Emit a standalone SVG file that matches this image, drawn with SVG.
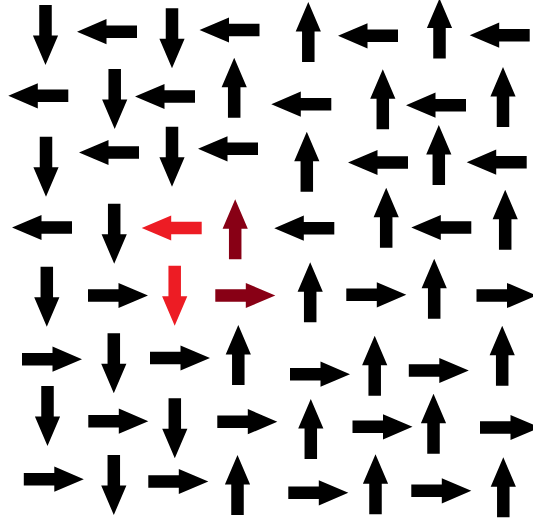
<svg xmlns="http://www.w3.org/2000/svg" xmlns:xlink="http://www.w3.org/1999/xlink" width="533" height="522" viewBox="0 0 533 522">
<style>
.k{fill:#000}
.r{fill:#ed1c24}
.d{fill:#880015}
</style>
<defs>
<path id="a" d="M-30,-6.25 H0.5 V-12.6 L30,0 L0.5,12.6 V6.25 H-30 Z"/>
</defs>
<rect width="533" height="522" fill="#fff"/>
<g id="row1" class="k">
<g id="n1"><use href="#a" transform="translate(45.5,35) rotate(90)"/></g>
<g id="n2"><use href="#a" transform="translate(107,31.7) rotate(180)"/></g>
<g id="n3"><use href="#a" transform="translate(172,38.3) rotate(90)"/></g>
<g id="n4"><use href="#a" transform="translate(229.5,30) rotate(180)"/></g>
<g id="n5"><use href="#a" transform="translate(308.3,32) rotate(-90)"/></g>
<g id="n6"><use href="#a" transform="translate(368,35.8) rotate(180)"/></g>
<g id="n7"><use href="#a" transform="translate(439.5,28.5) rotate(-90)"/></g>
<g id="n8"><use href="#a" transform="translate(499.7,35.2) rotate(180)"/></g>
</g>
<g id="row2" class="k">
<g id="n9"><use href="#a" transform="translate(38.3,95.8) rotate(180)"/></g>
<g id="n10"><use href="#a" transform="translate(114.7,99) rotate(90)"/></g>
<g id="n11"><use href="#a" transform="translate(165,96.5) rotate(180)"/></g>
<g id="n12"><use href="#a" transform="translate(234.2,87.8) rotate(-90)"/></g>
<g id="n13"><use href="#a" transform="translate(301.3,104.2) rotate(180)"/></g>
<g id="n14"><use href="#a" transform="translate(382.8,99.2) rotate(-90)"/></g>
<g id="n15"><use href="#a" transform="translate(436,105.2) rotate(180)"/></g>
<g id="n16"><use href="#a" transform="translate(503,97) rotate(-90)"/></g>
</g>
<g id="row3" class="k">
<g id="n17"><use href="#a" transform="translate(46,166.7) rotate(90)"/></g>
<g id="n18"><use href="#a" transform="translate(109,152.5) rotate(180)"/></g>
<g id="n19"><use href="#a" transform="translate(172,156.7) rotate(90)"/></g>
<g id="n20"><use href="#a" transform="translate(228,148.8) rotate(180)"/></g>
<g id="n21"><use href="#a" transform="translate(306.8,161.7) rotate(-90)"/></g>
<g id="n22"><use href="#a" transform="translate(378,162.5) rotate(180)"/></g>
<g id="n23"><use href="#a" transform="translate(438.8,155) rotate(-90)"/></g>
<g id="n24"><use href="#a" transform="translate(496.7,162.2) rotate(180)"/></g>
</g>
<g id="row4" class="k">
<g id="n25"><use href="#a" transform="translate(42,227.5) rotate(180)"/></g>
<g id="n26"><use href="#a" transform="translate(114.2,233.8) rotate(90)"/></g>
<g id="n27" class="r"><use href="#a" transform="translate(171.7,228) rotate(180)"/></g>
<g id="n28" class="d"><use href="#a" transform="translate(235.2,229.3) rotate(-90)"/></g>
<g id="n29"><use href="#a" transform="translate(304.3,228.2) rotate(180)"/></g>
<g id="n30"><use href="#a" transform="translate(386.2,217.8) rotate(-90)"/></g>
<g id="n31"><use href="#a" transform="translate(441.3,227.5) rotate(180)"/></g>
<g id="n32"><use href="#a" transform="translate(505.2,219.7) rotate(-90)"/></g>
</g>
<g id="row5" class="k">
<g id="n33"><use href="#a" transform="translate(46.8,296.7) rotate(90)"/></g>
<g id="n34"><use href="#a" transform="translate(118,295.5)"/></g>
<g id="n35" class="r"><use href="#a" transform="translate(174.7,295.8) rotate(90)"/></g>
<g id="n36" class="d"><use href="#a" transform="translate(245.3,295.5)"/></g>
<g id="n37"><use href="#a" transform="translate(310.2,292.3) rotate(-90)"/></g>
<g id="n38"><use href="#a" transform="translate(376.3,294.8)"/></g>
<g id="n39"><use href="#a" transform="translate(434.2,288.8) rotate(-90)"/></g>
<g id="n40"><use href="#a" transform="translate(506.5,295.5)"/></g>
</g>
<g id="row6" class="k">
<g id="n41"><use href="#a" transform="translate(52,359.2)"/></g>
<g id="n42"><use href="#a" transform="translate(113.8,363.3) rotate(90)"/></g>
<g id="n43"><use href="#a" transform="translate(180,358)"/></g>
<g id="n44"><use href="#a" transform="translate(238.3,355) rotate(-90)"/></g>
<g id="n45"><use href="#a" transform="translate(320,374.2)"/></g>
<g id="n46"><use href="#a" transform="translate(374.7,365.7) rotate(-90)"/></g>
<g id="n47"><use href="#a" transform="translate(438.8,370.5)"/></g>
<g id="n48"><use href="#a" transform="translate(502.2,355.7) rotate(-90)"/></g>
</g>
<g id="row7" class="k">
<g id="n49"><use href="#a" transform="translate(47.5,416) rotate(90)"/></g>
<g id="n50"><use href="#a" transform="translate(118.3,421.2)"/></g>
<g id="n51"><use href="#a" transform="translate(174.8,428.3) rotate(90)"/></g>
<g id="n52"><use href="#a" transform="translate(247.3,421.7)"/></g>
<g id="n53"><use href="#a" transform="translate(310.8,429) rotate(-90)"/></g>
<g id="n54"><use href="#a" transform="translate(382.5,426.8)"/></g>
<g id="n55"><use href="#a" transform="translate(433.5,423.7) rotate(-90)"/></g>
<g id="n56"><use href="#a" transform="translate(510,427.5)"/></g>
</g>
<g id="row8" class="k">
<g id="n57"><use href="#a" transform="translate(53.8,479.2)"/></g>
<g id="n58"><use href="#a" transform="translate(113.8,485) rotate(90)"/></g>
<g id="n59"><use href="#a" transform="translate(178.3,481.5)"/></g>
<g id="n60"><use href="#a" transform="translate(237.5,485) rotate(-90)"/></g>
<g id="n61"><use href="#a" transform="translate(318.3,492.8)"/></g>
<g id="n62"><use href="#a" transform="translate(375.5,484.2) rotate(-90)"/></g>
<g id="n63"><use href="#a" transform="translate(441.3,490.8)"/></g>
<g id="n64"><use href="#a" transform="translate(503.3,487.3) rotate(-90)"/></g>
</g>
</svg>
